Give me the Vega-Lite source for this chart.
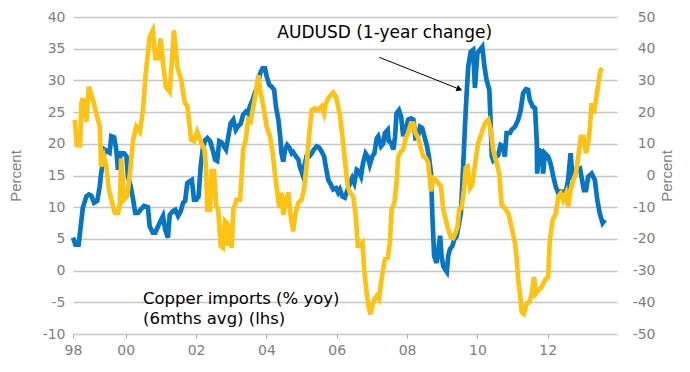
{
  "$schema": "https://vega.github.io/schema/vega-lite/v6.json",
  "width": 544,
  "height": 317,
  "autosize": {"type": "none"},
  "padding": {"left": 73, "top": 17, "right": 73, "bottom": 38},
  "background": "white",
  "config": {"view": {"stroke": null}, "font": "DejaVu Sans"},
  "datasets": {
    "aud": [
      {"year": 1998.50, "AUDUSD": -19.6}, {"year": 1998.57, "AUDUSD": -21.8}, {"year": 1998.66, "AUDUSD": -21.8},
      {"year": 1998.72, "AUDUSD": -16}, {"year": 1998.78, "AUDUSD": -10.2}, {"year": 1998.88, "AUDUSD": -6.6},
      {"year": 1998.95, "AUDUSD": -6}, {"year": 1999.02, "AUDUSD": -6.4}, {"year": 1999.10, "AUDUSD": -8.6},
      {"year": 1999.19, "AUDUSD": -8}, {"year": 1999.26, "AUDUSD": -3.4}, {"year": 1999.30, "AUDUSD": 0.8},
      {"year": 1999.35, "AUDUSD": 3.8}, {"year": 1999.40, "AUDUSD": 8.2}, {"year": 1999.48, "AUDUSD": 7.6},
      {"year": 1999.54, "AUDUSD": 7.2}, {"year": 1999.59, "AUDUSD": 12.4}, {"year": 1999.67, "AUDUSD": 12},
      {"year": 1999.73, "AUDUSD": 8.2}, {"year": 1999.78, "AUDUSD": 1.8}, {"year": 1999.86, "AUDUSD": 7},
      {"year": 1999.95, "AUDUSD": 7}, {"year": 2000.02, "AUDUSD": 6}, {"year": 2000.06, "AUDUSD": -0.2},
      {"year": 2000.14, "AUDUSD": -3.4}, {"year": 2000.21, "AUDUSD": -7.6}, {"year": 2000.27, "AUDUSD": -11.8},
      {"year": 2000.35, "AUDUSD": -11.8}, {"year": 2000.42, "AUDUSD": -10.8}, {"year": 2000.52, "AUDUSD": -9.6},
      {"year": 2000.63, "AUDUSD": -10}, {"year": 2000.68, "AUDUSD": -16}, {"year": 2000.77, "AUDUSD": -18},
      {"year": 2000.84, "AUDUSD": -18}, {"year": 2000.92, "AUDUSD": -16}, {"year": 2000.99, "AUDUSD": -14.4},
      {"year": 2001.06, "AUDUSD": -12.8}, {"year": 2001.12, "AUDUSD": -17}, {"year": 2001.20, "AUDUSD": -19.6},
      {"year": 2001.25, "AUDUSD": -12.4}, {"year": 2001.34, "AUDUSD": -11.2}, {"year": 2001.41, "AUDUSD": -10.8},
      {"year": 2001.49, "AUDUSD": -12.8}, {"year": 2001.56, "AUDUSD": -11.4}, {"year": 2001.63, "AUDUSD": -8.6},
      {"year": 2001.69, "AUDUSD": -8}, {"year": 2001.75, "AUDUSD": -2.4}, {"year": 2001.82, "AUDUSD": -1.8},
      {"year": 2001.88, "AUDUSD": -1.4}, {"year": 2001.94, "AUDUSD": -7.6}, {"year": 2002.01, "AUDUSD": -7.6},
      {"year": 2002.07, "AUDUSD": -6.6}, {"year": 2002.13, "AUDUSD": 2.8}, {"year": 2002.20, "AUDUSD": 9.2},
      {"year": 2002.26, "AUDUSD": 11.2}, {"year": 2002.32, "AUDUSD": 11.8}, {"year": 2002.40, "AUDUSD": 10.8},
      {"year": 2002.47, "AUDUSD": 8.2}, {"year": 2002.54, "AUDUSD": 5}, {"year": 2002.60, "AUDUSD": 4.6},
      {"year": 2002.66, "AUDUSD": 10.8}, {"year": 2002.73, "AUDUSD": 10.4}, {"year": 2002.79, "AUDUSD": 9.2},
      {"year": 2002.85, "AUDUSD": 8.2}, {"year": 2002.92, "AUDUSD": 12.4}, {"year": 2002.98, "AUDUSD": 16.4},
      {"year": 2003.06, "AUDUSD": 17.6}, {"year": 2003.13, "AUDUSD": 14.4}, {"year": 2003.20, "AUDUSD": 15.6},
      {"year": 2003.27, "AUDUSD": 16.4}, {"year": 2003.34, "AUDUSD": 19.2}, {"year": 2003.42, "AUDUSD": 20.2},
      {"year": 2003.48, "AUDUSD": 19.6}, {"year": 2003.53, "AUDUSD": 21.8}, {"year": 2003.61, "AUDUSD": 23.8},
      {"year": 2003.67, "AUDUSD": 26}, {"year": 2003.74, "AUDUSD": 28}, {"year": 2003.82, "AUDUSD": 32.2},
      {"year": 2003.89, "AUDUSD": 33.8}, {"year": 2003.96, "AUDUSD": 33.8}, {"year": 2004.01, "AUDUSD": 31.2},
      {"year": 2004.08, "AUDUSD": 28.6}, {"year": 2004.15, "AUDUSD": 28}, {"year": 2004.22, "AUDUSD": 27},
      {"year": 2004.27, "AUDUSD": 21.8}, {"year": 2004.34, "AUDUSD": 17.6}, {"year": 2004.39, "AUDUSD": 12.4},
      {"year": 2004.43, "AUDUSD": 7}, {"year": 2004.48, "AUDUSD": 4.4}, {"year": 2004.53, "AUDUSD": 8.2},
      {"year": 2004.59, "AUDUSD": 9.6}, {"year": 2004.65, "AUDUSD": 8.8}, {"year": 2004.72, "AUDUSD": 7},
      {"year": 2004.76, "AUDUSD": 7.4}, {"year": 2004.84, "AUDUSD": 6}, {"year": 2004.91, "AUDUSD": 5},
      {"year": 2004.95, "AUDUSD": 2.8}, {"year": 2005.03, "AUDUSD": 0.2}, {"year": 2005.10, "AUDUSD": 4},
      {"year": 2005.14, "AUDUSD": 6}, {"year": 2005.22, "AUDUSD": 6}, {"year": 2005.29, "AUDUSD": 7},
      {"year": 2005.35, "AUDUSD": 8.2}, {"year": 2005.43, "AUDUSD": 9.2}, {"year": 2005.50, "AUDUSD": 8.8},
      {"year": 2005.57, "AUDUSD": 7.6}, {"year": 2005.64, "AUDUSD": 6}, {"year": 2005.69, "AUDUSD": 2.8},
      {"year": 2005.76, "AUDUSD": -1.4}, {"year": 2005.83, "AUDUSD": -2.8}, {"year": 2005.90, "AUDUSD": -4.4},
      {"year": 2005.98, "AUDUSD": -4}, {"year": 2006.04, "AUDUSD": -5.4}, {"year": 2006.09, "AUDUSD": -4.4},
      {"year": 2006.16, "AUDUSD": -6.6}, {"year": 2006.23, "AUDUSD": -7}, {"year": 2006.31, "AUDUSD": -4.4},
      {"year": 2006.38, "AUDUSD": -2.4}, {"year": 2006.44, "AUDUSD": -0.8}, {"year": 2006.50, "AUDUSD": -2.4},
      {"year": 2006.57, "AUDUSD": 1.8}, {"year": 2006.63, "AUDUSD": 1.4}, {"year": 2006.69, "AUDUSD": -0.2},
      {"year": 2006.75, "AUDUSD": 4}, {"year": 2006.82, "AUDUSD": 7}, {"year": 2006.88, "AUDUSD": 6},
      {"year": 2006.94, "AUDUSD": 3.4}, {"year": 2007.01, "AUDUSD": 6}, {"year": 2007.07, "AUDUSD": 7},
      {"year": 2007.14, "AUDUSD": 11.8}, {"year": 2007.18, "AUDUSD": 12.4}, {"year": 2007.26, "AUDUSD": 9.2},
      {"year": 2007.32, "AUDUSD": 10}, {"year": 2007.37, "AUDUSD": 13.4}, {"year": 2007.45, "AUDUSD": 14.4},
      {"year": 2007.48, "AUDUSD": 10.8}, {"year": 2007.54, "AUDUSD": 10.4}, {"year": 2007.61, "AUDUSD": 8.2},
      {"year": 2007.66, "AUDUSD": 12.4}, {"year": 2007.70, "AUDUSD": 19.6}, {"year": 2007.77, "AUDUSD": 20.6},
      {"year": 2007.83, "AUDUSD": 18.6}, {"year": 2007.89, "AUDUSD": 12.4}, {"year": 2007.96, "AUDUSD": 14.4},
      {"year": 2008.03, "AUDUSD": 17.6}, {"year": 2008.11, "AUDUSD": 18}, {"year": 2008.18, "AUDUSD": 17.6},
      {"year": 2008.24, "AUDUSD": 11.8}, {"year": 2008.30, "AUDUSD": 12}, {"year": 2008.37, "AUDUSD": 15.4},
      {"year": 2008.43, "AUDUSD": 15}, {"year": 2008.49, "AUDUSD": 12.4}, {"year": 2008.56, "AUDUSD": 9.6},
      {"year": 2008.62, "AUDUSD": 6}, {"year": 2008.68, "AUDUSD": 0.8}, {"year": 2008.72, "AUDUSD": -12.8},
      {"year": 2008.77, "AUDUSD": -25.4}, {"year": 2008.84, "AUDUSD": -27.6}, {"year": 2008.89, "AUDUSD": -23.2},
      {"year": 2008.94, "AUDUSD": -19}, {"year": 2008.98, "AUDUSD": -25.4}, {"year": 2009.03, "AUDUSD": -28.6},
      {"year": 2009.08, "AUDUSD": -29.6}, {"year": 2009.13, "AUDUSD": -30.4}, {"year": 2009.17, "AUDUSD": -25.4},
      {"year": 2009.22, "AUDUSD": -23.2}, {"year": 2009.29, "AUDUSD": -22.2}, {"year": 2009.34, "AUDUSD": -20.2},
      {"year": 2009.41, "AUDUSD": -19.2}, {"year": 2009.48, "AUDUSD": -15}, {"year": 2009.53, "AUDUSD": -11.8},
      {"year": 2009.60, "AUDUSD": 4}, {"year": 2009.65, "AUDUSD": 16.4}, {"year": 2009.69, "AUDUSD": 25},
      {"year": 2009.74, "AUDUSD": 34.4}, {"year": 2009.81, "AUDUSD": 39}, {"year": 2009.88, "AUDUSD": 39.6},
      {"year": 2009.93, "AUDUSD": 27.6}, {"year": 2010.00, "AUDUSD": 38.6}, {"year": 2010.07, "AUDUSD": 39.6},
      {"year": 2010.14, "AUDUSD": 40.6}, {"year": 2010.20, "AUDUSD": 34.4}, {"year": 2010.26, "AUDUSD": 30.2},
      {"year": 2010.34, "AUDUSD": 27}, {"year": 2010.38, "AUDUSD": 15.4}, {"year": 2010.41, "AUDUSD": 6},
      {"year": 2010.45, "AUDUSD": 4.8}, {"year": 2010.55, "AUDUSD": 6}, {"year": 2010.59, "AUDUSD": 6.4},
      {"year": 2010.66, "AUDUSD": 9.6}, {"year": 2010.73, "AUDUSD": 9.2}, {"year": 2010.78, "AUDUSD": 6},
      {"year": 2010.83, "AUDUSD": 13.4}, {"year": 2010.93, "AUDUSD": 13.4}, {"year": 2010.97, "AUDUSD": 14.4},
      {"year": 2011.07, "AUDUSD": 15.4}, {"year": 2011.16, "AUDUSD": 17.6}, {"year": 2011.23, "AUDUSD": 20.6},
      {"year": 2011.30, "AUDUSD": 26}, {"year": 2011.38, "AUDUSD": 27.2}, {"year": 2011.44, "AUDUSD": 27},
      {"year": 2011.49, "AUDUSD": 23.8}, {"year": 2011.57, "AUDUSD": 21.8}, {"year": 2011.64, "AUDUSD": 21.2},
      {"year": 2011.69, "AUDUSD": 10.2}, {"year": 2011.70, "AUDUSD": 0.6}, {"year": 2011.76, "AUDUSD": 8},
      {"year": 2011.83, "AUDUSD": 7.6}, {"year": 2011.87, "AUDUSD": 0.6}, {"year": 2011.92, "AUDUSD": 7},
      {"year": 2012.01, "AUDUSD": 6}, {"year": 2012.08, "AUDUSD": 3.8}, {"year": 2012.16, "AUDUSD": -0.4},
      {"year": 2012.23, "AUDUSD": -3.6}, {"year": 2012.30, "AUDUSD": -5.6}, {"year": 2012.37, "AUDUSD": -5},
      {"year": 2012.44, "AUDUSD": -5.2}, {"year": 2012.52, "AUDUSD": -4.8}, {"year": 2012.58, "AUDUSD": -1.4},
      {"year": 2012.65, "AUDUSD": 7}, {"year": 2012.71, "AUDUSD": -1.4}, {"year": 2012.77, "AUDUSD": 1.8},
      {"year": 2012.84, "AUDUSD": 1.8}, {"year": 2012.92, "AUDUSD": 2.2}, {"year": 2012.96, "AUDUSD": -0.4},
      {"year": 2013.03, "AUDUSD": -4.6}, {"year": 2013.09, "AUDUSD": -4.6}, {"year": 2013.15, "AUDUSD": -0.4},
      {"year": 2013.25, "AUDUSD": 0.6}, {"year": 2013.34, "AUDUSD": -1.4}, {"year": 2013.41, "AUDUSD": -7.8},
      {"year": 2013.48, "AUDUSD": -12}, {"year": 2013.56, "AUDUSD": -15}, {"year": 2013.63, "AUDUSD": -14}
    ],
    "copper": [
      {"year": 1998.55, "copper": 23.8}, {"year": 1998.61, "copper": 19.8}, {"year": 1998.70, "copper": 19.8},
      {"year": 1998.74, "copper": 26.4}, {"year": 1998.78, "copper": 27.2}, {"year": 1998.88, "copper": 23.5},
      {"year": 1998.95, "copper": 29.0}, {"year": 1999.07, "copper": 26.9}, {"year": 1999.16, "copper": 24.8},
      {"year": 1999.26, "copper": 22.7}, {"year": 1999.30, "copper": 16.4}, {"year": 1999.38, "copper": 18.0},
      {"year": 1999.45, "copper": 16.4}, {"year": 1999.52, "copper": 12.8}, {"year": 1999.59, "copper": 11.2},
      {"year": 1999.69, "copper": 9.1}, {"year": 1999.78, "copper": 9.1}, {"year": 1999.83, "copper": 10.2},
      {"year": 1999.87, "copper": 17.7}, {"year": 1999.95, "copper": 11.2}, {"year": 2000.04, "copper": 11.7},
      {"year": 2000.11, "copper": 14.9}, {"year": 2000.21, "copper": 20.6}, {"year": 2000.30, "copper": 22.7},
      {"year": 2000.40, "copper": 21.9}, {"year": 2000.49, "copper": 25.3}, {"year": 2000.56, "copper": 30.6},
      {"year": 2000.68, "copper": 36.9}, {"year": 2000.77, "copper": 37.9}, {"year": 2000.84, "copper": 33.5},
      {"year": 2000.92, "copper": 33.5}, {"year": 2000.99, "copper": 36.6}, {"year": 2001.06, "copper": 32.7},
      {"year": 2001.14, "copper": 29.0}, {"year": 2001.25, "copper": 28.2}, {"year": 2001.37, "copper": 37.9},
      {"year": 2001.47, "copper": 32.1}, {"year": 2001.58, "copper": 30.0}, {"year": 2001.68, "copper": 26.4},
      {"year": 2001.75, "copper": 26.0}, {"year": 2001.86, "copper": 20.6}, {"year": 2001.94, "copper": 20.4},
      {"year": 2002.03, "copper": 21.9}, {"year": 2002.15, "copper": 20.1}, {"year": 2002.24, "copper": 19.0},
      {"year": 2002.28, "copper": 16.5}, {"year": 2002.32, "copper": 9.6}, {"year": 2002.40, "copper": 9.6},
      {"year": 2002.44, "copper": 15.7}, {"year": 2002.51, "copper": 15.7}, {"year": 2002.57, "copper": 10.2},
      {"year": 2002.63, "copper": 9.6}, {"year": 2002.70, "copper": 3.9}, {"year": 2002.77, "copper": 3.6},
      {"year": 2002.82, "copper": 7.8}, {"year": 2002.87, "copper": 7.5}, {"year": 2002.92, "copper": 3.9},
      {"year": 2002.96, "copper": 7.5}, {"year": 2003.01, "copper": 3.6}, {"year": 2003.06, "copper": 9.6},
      {"year": 2003.15, "copper": 11.2}, {"year": 2003.25, "copper": 11.2}, {"year": 2003.30, "copper": 15.4},
      {"year": 2003.34, "copper": 19.1}, {"year": 2003.41, "copper": 20.6}, {"year": 2003.48, "copper": 23.8},
      {"year": 2003.55, "copper": 23.5}, {"year": 2003.63, "copper": 25.9}, {"year": 2003.70, "copper": 28.0},
      {"year": 2003.77, "copper": 30.8}, {"year": 2003.82, "copper": 28.5}, {"year": 2003.87, "copper": 27.2},
      {"year": 2003.93, "copper": 25.3}, {"year": 2004.01, "copper": 22.7}, {"year": 2004.10, "copper": 21.2},
      {"year": 2004.18, "copper": 18.5}, {"year": 2004.24, "copper": 15.4}, {"year": 2004.31, "copper": 12.3},
      {"year": 2004.37, "copper": 9.9}, {"year": 2004.43, "copper": 12.3}, {"year": 2004.48, "copper": 8.8},
      {"year": 2004.56, "copper": 11.2}, {"year": 2004.62, "copper": 12.3}, {"year": 2004.69, "copper": 8.6},
      {"year": 2004.76, "copper": 6.2}, {"year": 2004.83, "copper": 9.1}, {"year": 2004.91, "copper": 10.7},
      {"year": 2005.00, "copper": 11.2}, {"year": 2005.07, "copper": 12.8}, {"year": 2005.14, "copper": 16.4},
      {"year": 2005.22, "copper": 21.7}, {"year": 2005.29, "copper": 25.3}, {"year": 2005.38, "copper": 25.6},
      {"year": 2005.47, "copper": 25.3}, {"year": 2005.57, "copper": 25.9}, {"year": 2005.64, "copper": 24.8},
      {"year": 2005.69, "copper": 26.4}, {"year": 2005.76, "copper": 27.2}, {"year": 2005.83, "copper": 27.7},
      {"year": 2005.90, "copper": 28.1}, {"year": 2005.98, "copper": 27.4}, {"year": 2006.04, "copper": 25.9},
      {"year": 2006.09, "copper": 24.5}, {"year": 2006.16, "copper": 21.2}, {"year": 2006.23, "copper": 17.5},
      {"year": 2006.31, "copper": 13.3}, {"year": 2006.38, "copper": 12.3}, {"year": 2006.47, "copper": 11.7},
      {"year": 2006.54, "copper": 8.6}, {"year": 2006.60, "copper": 3.9}, {"year": 2006.66, "copper": 3.9},
      {"year": 2006.73, "copper": 4.4}, {"year": 2006.78, "copper": 0.2}, {"year": 2006.85, "copper": -3.5},
      {"year": 2006.90, "copper": -5.5}, {"year": 2006.96, "copper": -6.9}, {"year": 2007.01, "copper": -5.5},
      {"year": 2007.07, "copper": -4.5}, {"year": 2007.14, "copper": -4.0}, {"year": 2007.20, "copper": -4.5},
      {"year": 2007.26, "copper": -1.9}, {"year": 2007.32, "copper": 0.2}, {"year": 2007.37, "copper": 1.8},
      {"year": 2007.45, "copper": 2.0}, {"year": 2007.51, "copper": 4.4}, {"year": 2007.56, "copper": 9.6},
      {"year": 2007.64, "copper": 10.7}, {"year": 2007.70, "copper": 13.8}, {"year": 2007.75, "copper": 18.0},
      {"year": 2007.83, "copper": 18.8}, {"year": 2007.89, "copper": 19.1}, {"year": 2007.96, "copper": 20.9},
      {"year": 2008.03, "copper": 21.7}, {"year": 2008.11, "copper": 23.2}, {"year": 2008.18, "copper": 23.2},
      {"year": 2008.24, "copper": 21.7}, {"year": 2008.32, "copper": 20.9}, {"year": 2008.39, "copper": 19.3},
      {"year": 2008.46, "copper": 18.0}, {"year": 2008.53, "copper": 17.8}, {"year": 2008.60, "copper": 17.0},
      {"year": 2008.68, "copper": 12.5}, {"year": 2008.74, "copper": 14.6}, {"year": 2008.81, "copper": 14.4},
      {"year": 2008.89, "copper": 13.8}, {"year": 2008.96, "copper": 13.3}, {"year": 2009.03, "copper": 9.6},
      {"year": 2009.10, "copper": 8.1}, {"year": 2009.17, "copper": 6.5}, {"year": 2009.25, "copper": 5.2},
      {"year": 2009.31, "copper": 5.1}, {"year": 2009.38, "copper": 6.0}, {"year": 2009.44, "copper": 7.0},
      {"year": 2009.48, "copper": 9.6}, {"year": 2009.55, "copper": 9.9}, {"year": 2009.62, "copper": 12.8},
      {"year": 2009.67, "copper": 16.2}, {"year": 2009.72, "copper": 16.4}, {"year": 2009.79, "copper": 13.0},
      {"year": 2009.85, "copper": 13.5}, {"year": 2009.91, "copper": 15.8}, {"year": 2010.02, "copper": 20.1},
      {"year": 2010.12, "copper": 21.7}, {"year": 2010.21, "copper": 23.2}, {"year": 2010.31, "copper": 23.8},
      {"year": 2010.38, "copper": 22.2}, {"year": 2010.45, "copper": 19.0}, {"year": 2010.55, "copper": 16.9},
      {"year": 2010.62, "copper": 15.3}, {"year": 2010.69, "copper": 10.3}, {"year": 2010.78, "copper": 9.9},
      {"year": 2010.88, "copper": 9.0}, {"year": 2010.97, "copper": 6.9}, {"year": 2011.07, "copper": 4.3},
      {"year": 2011.12, "copper": 1.7}, {"year": 2011.16, "copper": -1.5}, {"year": 2011.21, "copper": -3.6},
      {"year": 2011.26, "copper": -6.5}, {"year": 2011.32, "copper": -6.8}, {"year": 2011.40, "copper": -5.2},
      {"year": 2011.47, "copper": -5.0}, {"year": 2011.54, "copper": -3.8}, {"year": 2011.61, "copper": -1.0},
      {"year": 2011.66, "copper": -3.6}, {"year": 2011.73, "copper": -3.1}, {"year": 2011.83, "copper": -2.6},
      {"year": 2011.92, "copper": -1.5}, {"year": 2012.01, "copper": -1.0}, {"year": 2012.06, "copper": 4.8},
      {"year": 2012.14, "copper": 8.0}, {"year": 2012.23, "copper": 9.0}, {"year": 2012.30, "copper": 11.7},
      {"year": 2012.37, "copper": 12.2}, {"year": 2012.44, "copper": 11.1}, {"year": 2012.52, "copper": 12.2},
      {"year": 2012.58, "copper": 10.1}, {"year": 2012.65, "copper": 12.7}, {"year": 2012.73, "copper": 14.3},
      {"year": 2012.80, "copper": 15.3}, {"year": 2012.87, "copper": 18.0}, {"year": 2012.94, "copper": 21.1},
      {"year": 2013.01, "copper": 21.1}, {"year": 2013.09, "copper": 18.5}, {"year": 2013.15, "copper": 20.1},
      {"year": 2013.20, "copper": 22.7}, {"year": 2013.25, "copper": 26.4}, {"year": 2013.31, "copper": 24.8},
      {"year": 2013.37, "copper": 26.9}, {"year": 2013.44, "copper": 29.5}, {"year": 2013.50, "copper": 31.6},
      {"year": 2013.56, "copper": 31.9}
    ],
    "notes": [
      {"kind": "aud", "year": 2004.31, "copper": 37.5, "label": "AUDUSD (1-year change)"},
      {"kind": "cu", "year": 2000.49, "copper": -4.5, "label": "Copper imports (% yoy)"},
      {"kind": "cu", "year": 2000.49, "copper": -7.6, "label": "(6mths avg) (lhs)"}
    ],
    "arrow": [
      {"year": 2007.21, "copper": 33.64, "year2": 2009.49, "copper2": 28.61}
    ],
    "arrowhead": [
      {"year": 2009.49, "copper": 28.61}
    ]
  },
  "layer": [
    {
      "data": {"name": "aud"},
      "mark": {"type": "line", "color": "#0675c4", "strokeWidth": 4.7},
      "encoding": {
        "x": {
          "field": "year", "type": "quantitative",
          "scale": {"domain": [1998.5, 2013.97], "nice": false, "zero": false},
          "axis": {
            "title": null,
            "values": [1998.5, 2000, 2002, 2004, 2006, 2008, 2010, 2012],
            "labelExpr": "datum.value < 1999 ? '98' : slice(toString(datum.value), 2)",
            "grid": false, "domain": false, "ticks": true, "tickSize": 4, "tickColor": "#aaaaaa",
            "labelFlush": false, "labelOverlap": false, "labelPadding": 5,
            "labelFontSize": 14, "labelColor": "#808080", "labelFont": "DejaVu Sans"
          }
        },
        "y": {
          "field": "AUDUSD", "type": "quantitative",
          "scale": {"domain": [-50, 50], "nice": false, "zero": false},
          "axis": {
            "orient": "right", "title": "Percent", "titleAngle": 270, "titleFont": "Liberation Sans",
            "titleFontSize": 15, "titleFontWeight": "normal", "titleColor": "#808080", "titlePadding": 19,
            "values": [-50, -40, -30, -20, -10, 0, 10, 20, 30, 40, 50],
            "labelExpr": "'' + datum.value", "labelOverlap": false,
            "grid": false, "domain": false, "ticks": false,
            "labelAlign": "right", "labelPadding": 38,
            "labelFontSize": 14, "labelColor": "#808080", "labelFont": "DejaVu Sans"
          }
        }
      }
    },
    {
      "encoding": {
        "x": {"field": "year", "type": "quantitative", "scale": {"domain": [1998.5, 2013.97], "nice": false, "zero": false}},
        "y": {
          "field": "copper", "type": "quantitative",
          "scale": {"domain": [-10, 40], "nice": false, "zero": false},
          "axis": {
            "orient": "left", "title": "Percent", "titleFont": "Liberation Sans",
            "titleFontSize": 15, "titleFontWeight": "normal", "titleColor": "#808080", "titlePadding": 19,
            "values": [-10, -5, 0, 5, 10, 15, 20, 25, 30, 35, 40],
            "labelExpr": "'' + datum.value", "labelOverlap": false,
            "grid": true, "gridColor": "#c6c6c6", "gridWidth": 1.5,
            "domain": false, "ticks": false, "labelPadding": 8,
            "labelFontSize": 14, "labelColor": "#808080", "labelFont": "DejaVu Sans"
          }
        }
      },
      "layer": [
        {
          "data": {"name": "copper"},
          "mark": {"type": "line", "color": "#fdc314", "strokeWidth": 4.7}
        },
        {
          "data": {"name": "arrow"},
          "mark": {"type": "rule", "color": "black", "strokeWidth": 1},
          "encoding": {
            "x2": {"field": "year2"},
            "y2": {"field": "copper2"}
          }
        },
        {
          "data": {"name": "arrowhead"},
          "mark": {"type": "point", "shape": "triangle-right", "filled": true, "color": "black", "size": 45, "angle": 21.7, "opacity": 1}
        },
        {
          "data": {"name": "notes"},
          "transform": [{"filter": "datum.kind == 'aud'"}],
          "mark": {"type": "text", "align": "left", "baseline": "middle", "fontSize": 17, "font": "DejaVu Sans", "color": "black"},
          "encoding": {"text": {"field": "label"}}
        },
        {
          "data": {"name": "notes"},
          "transform": [{"filter": "datum.kind == 'cu'"}],
          "mark": {"type": "text", "align": "left", "baseline": "middle", "fontSize": 16.5, "font": "DejaVu Sans", "color": "black"},
          "encoding": {"text": {"field": "label"}}
        }
      ]
    }
  ],
  "resolve": {"scale": {"y": "independent"}}
}
